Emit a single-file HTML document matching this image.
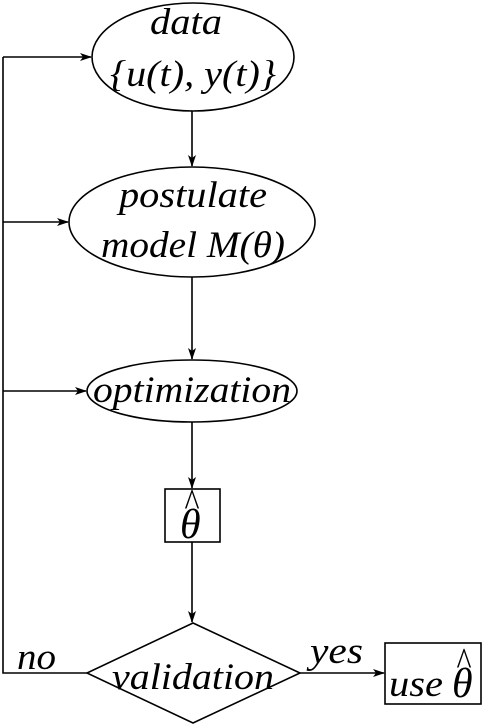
<!DOCTYPE html>
<html><head><style>html,body{margin:0;padding:0;background:#fff}svg{display:block}</style></head>
<body>
<svg width="482" height="725" viewBox="0 0 482 725" xmlns="http://www.w3.org/2000/svg">
<defs>
<marker id="a" markerWidth="12" markerHeight="8" refX="11" refY="4" orient="auto" markerUnits="userSpaceOnUse">
<path d="M0,0 L12,4 L0,8 L3,4 Z" fill="#000"/>
</marker>
</defs>
<g fill="none" stroke="#000" stroke-width="1.6">
<ellipse cx="193" cy="57" rx="101" ry="54"/>
<ellipse cx="192" cy="222" rx="123" ry="55"/>
<ellipse cx="192" cy="391" rx="105" ry="31"/>
<rect x="165" y="489" width="55" height="53"/>
<polygon points="193,623 300,673 193,723 87,673"/>
<rect x="385" y="643" width="96" height="61"/>
<polyline points="87,673 3,673 3,57"/>
<line x1="3" y1="57" x2="91" y2="57" marker-end="url(#a)"/>
<line x1="3" y1="222" x2="68" y2="222" marker-end="url(#a)"/>
<line x1="3" y1="391" x2="86" y2="391" marker-end="url(#a)"/>
<line x1="192" y1="111" x2="192" y2="166" marker-end="url(#a)"/>
<line x1="192" y1="277" x2="192" y2="359" marker-end="url(#a)"/>
<line x1="192" y1="422" x2="192" y2="488" marker-end="url(#a)"/>
<line x1="192" y1="542" x2="192" y2="622" marker-end="url(#a)"/>
<line x1="300" y1="673" x2="384" y2="673" marker-end="url(#a)"/>
</g>
<g style="font-family:'Liberation Serif',serif;font-style:italic" font-size="37" fill="#000">
<text x="150" y="34" textLength="72" lengthAdjust="spacingAndGlyphs">data</text>
<text x="110" y="86" textLength="166" lengthAdjust="spacingAndGlyphs">{u(t), y(t)}</text>
<text x="119" y="207" textLength="148" lengthAdjust="spacingAndGlyphs">postulate</text>
<text x="101" y="257" textLength="184" lengthAdjust="spacingAndGlyphs">model M(θ)</text>
<text x="93" y="402" textLength="198" lengthAdjust="spacingAndGlyphs">optimization</text>
<text x="180" y="538" font-size="42">θ</text>
<text x="192" y="516" font-size="40" style="font-style:normal" text-anchor="middle" transform="translate(192,0) scale(0.8,1) translate(-192,0)">^</text>
<text x="112" y="689" textLength="162" lengthAdjust="spacingAndGlyphs">validation</text>
<text x="17" y="669" textLength="39" lengthAdjust="spacingAndGlyphs">no</text>
<text x="310" y="663" textLength="53" lengthAdjust="spacingAndGlyphs">yes</text>
<text x="389" y="696" textLength="54" lengthAdjust="spacingAndGlyphs">use</text>
<text x="452" y="697" font-size="42">θ</text>
<text x="464" y="675" font-size="40" style="font-style:normal" text-anchor="middle" transform="translate(464,0) scale(0.8,1) translate(-464,0)">^</text>
</g>
</svg>
</body></html>
